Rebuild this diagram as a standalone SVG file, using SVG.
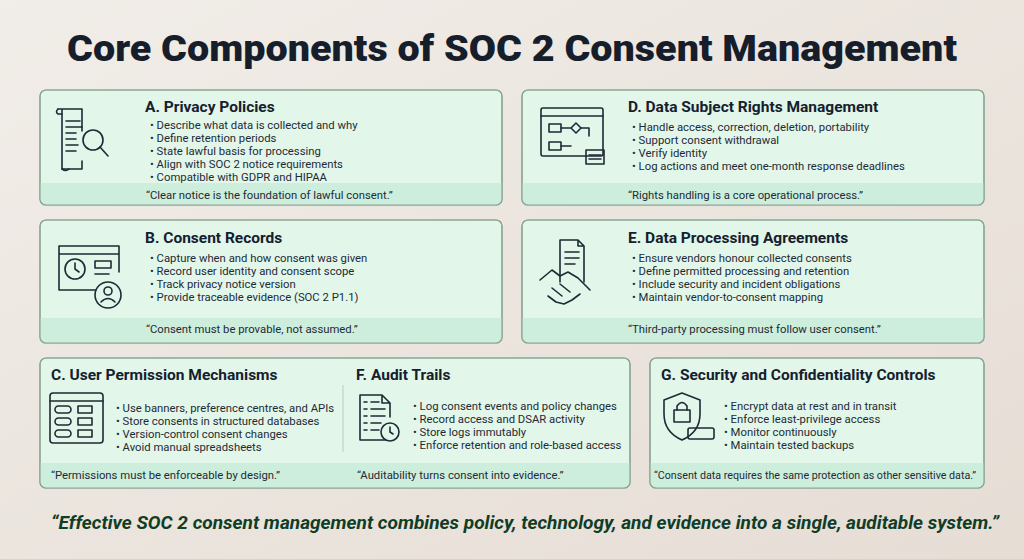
<svg xmlns="http://www.w3.org/2000/svg" width="1024" height="559" viewBox="0 0 1024 559">
<defs>
<linearGradient id="bg" x1="0" y1="0" x2="1" y2="1"><stop offset="0" stop-color="#f1ede8"/><stop offset="1" stop-color="#e6ddd5"/></linearGradient>
<clipPath id="cA"><rect x="40" y="90" width="462" height="115" rx="6"/></clipPath>
<clipPath id="cB"><rect x="40" y="220" width="462" height="123" rx="6"/></clipPath>
<clipPath id="cD"><rect x="522" y="90" width="462" height="115" rx="6"/></clipPath>
<clipPath id="cE"><rect x="522" y="220" width="462" height="123" rx="6"/></clipPath>
<clipPath id="cC"><rect x="40" y="358" width="590" height="130" rx="6"/></clipPath>
<clipPath id="cG"><rect x="650" y="358" width="334" height="130" rx="6"/></clipPath>
</defs>
<style>
.box{fill:#e2f6ea;stroke:#8aa596;stroke-width:1.2}
.band{fill:#cdeedc}
.h{font-family:Roboto,"Liberation Sans",sans-serif;font-weight:700;font-size:15.5px;fill:#15202e}
.b{font-family:Roboto,"Liberation Sans",sans-serif;font-size:11.3px;fill:#1e2a36}
.q{font-family:Roboto,"Liberation Sans",sans-serif;font-size:11.3px;fill:#1e2a36}
.ic{fill:none;stroke:#1e2a36;stroke-width:1.6;stroke-linecap:round;stroke-linejoin:round}
</style>
<rect width="1024" height="559" fill="url(#bg)"/>
<text x="512" y="61" text-anchor="middle" font-family="Roboto,'Liberation Sans',sans-serif" font-weight="900" font-size="36" textLength="890" lengthAdjust="spacingAndGlyphs" fill="#161e2c">Core Components of SOC 2 Consent Management</text>

<g id="A">
<rect class="box" x="40" y="90" width="462" height="115" rx="6"/>
<rect class="band" x="40" y="183" width="462" height="22" clip-path="url(#cA)"/>
<rect x="40" y="90" width="462" height="115" rx="6" fill="none" stroke="#8aa596" stroke-width="1.2"/>
<text class="h" x="145" y="112">A. Privacy Policies</text>
<text class="b" x="150" y="129">• Describe what data is collected and why</text>
<text class="b" x="150" y="142">• Define retention periods</text>
<text class="b" x="150" y="155">• State lawful basis for processing</text>
<text class="b" x="150" y="168">• Align with SOC 2 notice requirements</text>
<text class="b" x="150" y="181">• Compatible with GDPR and HIPAA</text>
<text class="q" x="146" y="199">“Clear notice is the foundation of lawful consent.”</text>
<g class="ic"><path d="M58 109h24M62 109v60h20M82 109v22M82 161v8"/><path d="M58 109q-3 3 0 5h4M62 169q4 3 7 0M66 121h14M66 127h16M66 133h10M66 139h10M66 145h12M66 151h10"/><circle cx="93" cy="140" r="10"/><path d="M100 147l8 9"/></g>
</g>

<g id="B">
<rect class="box" x="40" y="220" width="462" height="123" rx="6"/>
<rect class="band" x="40" y="318" width="462" height="25" clip-path="url(#cB)"/>
<rect x="40" y="220" width="462" height="123" rx="6" fill="none" stroke="#8aa596" stroke-width="1.2"/>
<text class="h" x="145" y="243">B. Consent Records</text>
<text class="b" x="150" y="262">• Capture when and how consent was given</text>
<text class="b" x="150" y="275">• Record user identity and consent scope</text>
<text class="b" x="150" y="288">• Track privacy notice version</text>
<text class="b" x="150" y="301">• Provide traceable evidence (SOC 2 P1.1)</text>
<text class="q" x="146" y="333">“Consent must be provable, not assumed.”</text>
<g class="ic"><path d="M96 290H59v-44h60v26M59 254h60"/><circle cx="75" cy="269" r="10"/><path d="M75 263v6l4 3"/><rect x="95" y="261" width="16" height="7"/><path d="M95 274h14"/><circle cx="108" cy="295" r="13"/><circle cx="108" cy="291" r="4"/><path d="M101 302q7-7 14 0"/></g>
</g>

<g id="D">
<rect class="box" x="522" y="90" width="462" height="115" rx="6"/>
<rect class="band" x="522" y="183" width="462" height="22" clip-path="url(#cD)"/>
<rect x="522" y="90" width="462" height="115" rx="6" fill="none" stroke="#8aa596" stroke-width="1.2"/>
<text class="h" x="628" y="112">D. Data Subject Rights Management</text>
<text class="b" x="632" y="131">• Handle access, correction, deletion, portability</text>
<text class="b" x="632" y="144">• Support consent withdrawal</text>
<text class="b" x="632" y="157">• Verify identity</text>
<text class="b" x="632" y="170">• Log actions and meet one-month response deadlines</text>
<text class="q" x="628" y="199">“Rights handling is a core operational process.”</text>
<g class="ic"><rect x="541" y="108" width="62" height="48" rx="2"/><path d="M541 116h62"/><rect x="549" y="124" width="12" height="8"/><rect x="549" y="142" width="12" height="8"/><path d="M561 128h10M561 146h10M571 128l5-5 5 5-5 5z"/><path d="M581 128h8v8"/><rect x="586" y="150" width="18" height="14"/><path d="M589 155h12M589 159h12"/></g>
</g>

<g id="E">
<rect class="box" x="522" y="220" width="462" height="123" rx="6"/>
<rect class="band" x="522" y="318" width="462" height="25" clip-path="url(#cE)"/>
<rect x="522" y="220" width="462" height="123" rx="6" fill="none" stroke="#8aa596" stroke-width="1.2"/>
<text class="h" x="628" y="243">E. Data Processing Agreements</text>
<text class="b" x="632" y="262">• Ensure vendors honour collected consents</text>
<text class="b" x="632" y="275">• Define permitted processing and retention</text>
<text class="b" x="632" y="288">• Include security and incident obligations</text>
<text class="b" x="632" y="301">• Maintain vendor-to-consent mapping</text>
<text class="q" x="628" y="333">“Third-party processing must follow user consent.”</text>
<g class="ic"><path d="M560 282v-42h18l6 6v36M578 240v6h6M565 252h14M565 258h14M565 264h10"/><path d="M540 280l12-10 8 6 8-4 10 6 12 12M548 296l8 6 8 2 8-4 8-6M552 288l10 8M560 284l10 8"/></g>
</g>

<g id="CF">
<rect class="box" x="40" y="358" width="590" height="130" rx="6"/>
<rect class="band" x="40" y="463" width="590" height="25" clip-path="url(#cC)"/>
<rect x="40" y="358" width="590" height="130" rx="6" fill="none" stroke="#8aa596" stroke-width="1.2"/>
<line x1="343" y1="385" x2="343" y2="452" stroke="#b7cfc2" stroke-width="1"/>
<text class="h" x="51" y="380">C. User Permission Mechanisms</text>
<text class="b" x="116" y="412">• Use banners, preference centres, and APIs</text>
<text class="b" x="116" y="425">• Store consents in structured databases</text>
<text class="b" x="116" y="438">• Version-control consent changes</text>
<text class="b" x="116" y="451">• Avoid manual spreadsheets</text>
<text class="q" x="51" y="479">“Permissions must be enforceable by design.”</text>
<g class="ic"><rect x="50" y="393" width="53" height="50" rx="3"/><path d="M50 401h53"/><rect x="55" y="406" width="16" height="7" rx="3.5"/><rect x="55" y="418" width="16" height="7" rx="3.5"/><rect x="55" y="430" width="16" height="7" rx="3.5"/><rect x="78" y="406" width="14" height="7"/><rect x="78" y="418" width="14" height="7"/><rect x="78" y="430" width="14" height="7"/></g>
<text class="h" x="356" y="380">F. Audit Trails</text>
<text class="b" x="413" y="410">• Log consent events and policy changes</text>
<text class="b" x="413" y="423">• Record access and DSAR activity</text>
<text class="b" x="413" y="436">• Store logs immutably</text>
<text class="b" x="413" y="449">• Enforce retention and role-based access</text>
<text class="q" x="357" y="479">“Auditability turns consent into evidence.”</text>
<g class="ic"><path d="M385 440h-25v-45h22l8 8v14M382 395v8h8"/><path d="M364 402h3M364 409h3M364 416h3M364 423h3M364 430h3M371 402h8M371 409h14M371 416h14M371 423h10M371 430h8"/><circle cx="390" cy="432" r="9"/><path d="M390 427v5l3 2"/></g>
</g>

<g id="G">
<rect class="box" x="650" y="358" width="334" height="130" rx="6"/>
<rect class="band" x="650" y="463" width="334" height="25" clip-path="url(#cG)"/>
<rect x="650" y="358" width="334" height="130" rx="6" fill="none" stroke="#8aa596" stroke-width="1.2"/>
<text class="h" x="661" y="380">G. Security and Confidentiality Controls</text>
<text class="b" x="724" y="410">• Encrypt data at rest and in transit</text>
<text class="b" x="724" y="423">• Enforce least-privilege access</text>
<text class="b" x="724" y="436">• Monitor continuously</text>
<text class="b" x="724" y="449">• Maintain tested backups</text>
<text class="q" x="654" y="479" textLength="322" lengthAdjust="spacingAndGlyphs">“Consent data requires the same protection as other sensitive data.”</text>
<g class="ic"><path d="M682 393l-18 7v14q0 18 18 26q18-8 18-26v-14z"/><rect x="674" y="410" width="16" height="12"/><path d="M677 410v-4q5-7 10 0v4"/><rect x="688" y="428" width="26" height="11" rx="2"/></g>
</g>

<text x="525" y="529" text-anchor="middle" font-family="Roboto,'Liberation Sans',sans-serif" font-weight="700" font-style="italic" font-size="19" textLength="948" lengthAdjust="spacingAndGlyphs" fill="#0f3d26">“Effective SOC 2 consent management combines policy, technology, and evidence into a single, auditable system.”</text>
</svg>
